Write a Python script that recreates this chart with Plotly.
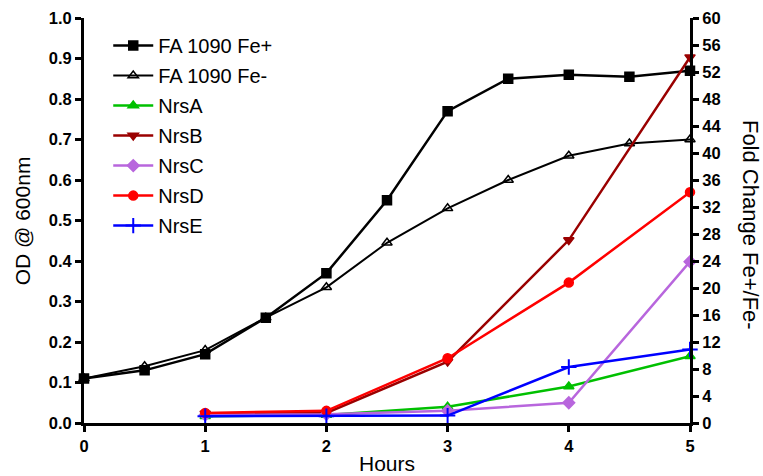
import plotly.graph_objects as go

hours_od = [0, 0.5, 1, 1.5, 2, 2.5, 3, 3.5, 4, 4.5, 5]
fe_plus = [0.11, 0.13, 0.17, 0.26, 0.37, 0.55, 0.77, 0.85, 0.86, 0.855, 0.87]
fe_minus = [0.11, 0.14, 0.18, 0.26, 0.335, 0.445, 0.53, 0.60, 0.66, 0.69, 0.70]

hours_fc = [1, 2, 3, 4, 5]
nrsA = [1.0, 1.2, 2.4, 5.4, 9.9]
nrsB = [1.4, 1.5, 9.1, 27.1, 54.2]
nrsC = [1.2, 1.3, 1.8, 3.0, 23.9]
nrsD = [1.5, 1.8, 9.6, 20.8, 34.2]
nrsE = [1.0, 1.0, 1.1, 8.3, 10.9]

x_ticks = [0, 1, 2, 3, 4, 5]
od_ticks = [0.0, 0.1, 0.2, 0.3, 0.4, 0.5, 0.6, 0.7, 0.8, 0.9, 1.0]
fc_ticks = list(range(0, 61, 4))

FONT = "Liberation Sans, Arial, sans-serif"

fig = go.Figure()

def add(x, y, name, color, symbol, axis, msize=9, lw=2.5, mlw=1.5):
    fig.add_trace(go.Scatter(
        x=x, y=y, name=name, yaxis=axis, mode="lines+markers",
        line=dict(color=color, width=lw),
        marker=dict(symbol=symbol, size=msize, color=color,
                    line=dict(color=color, width=mlw)),
        cliponaxis=False, legendgroup=name))

add(hours_od, fe_plus, "FA 1090 Fe+", "black", "square", "y", msize=9)
add(hours_od, fe_minus, "FA 1090 Fe-", "black", "triangle-up-open", "y", msize=9, lw=2)
add(hours_fc, nrsA, "NrsA", "#00c000", "triangle-up", "y2")
add(hours_fc, nrsB, "NrsB", "#9a0000", "triangle-down", "y2")
add(hours_fc, nrsC, "NrsC", "#b866dd", "diamond", "y2")
add(hours_fc, nrsD, "NrsD", "#ff0000", "circle", "y2")
add(hours_fc, nrsE, "NrsE", "#0000ff", "cross-thin", "y2", msize=11, mlw=2)

axis_common = dict(showline=True, linecolor="black", linewidth=3,
                   ticks="outside", ticklen=6, tickwidth=2.5, tickcolor="black",
                   showgrid=False, zeroline=False, automargin=False,
                   tickfont=dict(family=FONT, size=16.5, color="black"))

fig.update_layout(
    width=763, height=476,
    margin=dict(l=84, r=73, t=18, b=53),
    paper_bgcolor="white", plot_bgcolor="white",
    font=dict(family=FONT, color="black"),
    xaxis=dict(range=[0, 5], tickvals=x_ticks,
               ticktext=[f"<b>{v}</b>" for v in x_ticks],
               **axis_common),
    yaxis=dict(range=[0, 1.0], tickvals=od_ticks,
               ticktext=[f"<b>{v:.1f}</b>" for v in od_ticks],
               **axis_common),
    yaxis2=dict(range=[0, 60], tickvals=fc_ticks,
                ticktext=[f"<b>{v}</b>" for v in fc_ticks],
                overlaying="y", side="right",
                **axis_common),
    legend=dict(x=0.04, y=0.98, xanchor="left", yanchor="top",
                bgcolor="rgba(0,0,0,0)", borderwidth=0,
                font=dict(size=20, family=FONT, color="black"),
                traceorder="grouped", tracegroupgap=1, itemwidth=40),
    showlegend=True,
)

title_font = dict(size=21, family=FONT, color="black")
fig.add_annotation(text="Hours", xref="paper", yref="paper", x=0.5, y=-0.099,
                   xanchor="center", yanchor="middle", showarrow=False, font=title_font)
fig.add_annotation(text="OD @ 600nm", textangle=-90, xref="paper", yref="paper",
                   x=-0.101, y=0.5, xanchor="center", yanchor="middle",
                   showarrow=False, font=title_font)
fig.add_annotation(text="Fold Change Fe+/Fe-", textangle=90,
                   xref="paper", yref="paper", x=1.1, y=0.49,
                   xanchor="center", yanchor="middle", showarrow=False,
                   font=dict(size=22, family=FONT, color="black"))

fig.write_html("out.html")
